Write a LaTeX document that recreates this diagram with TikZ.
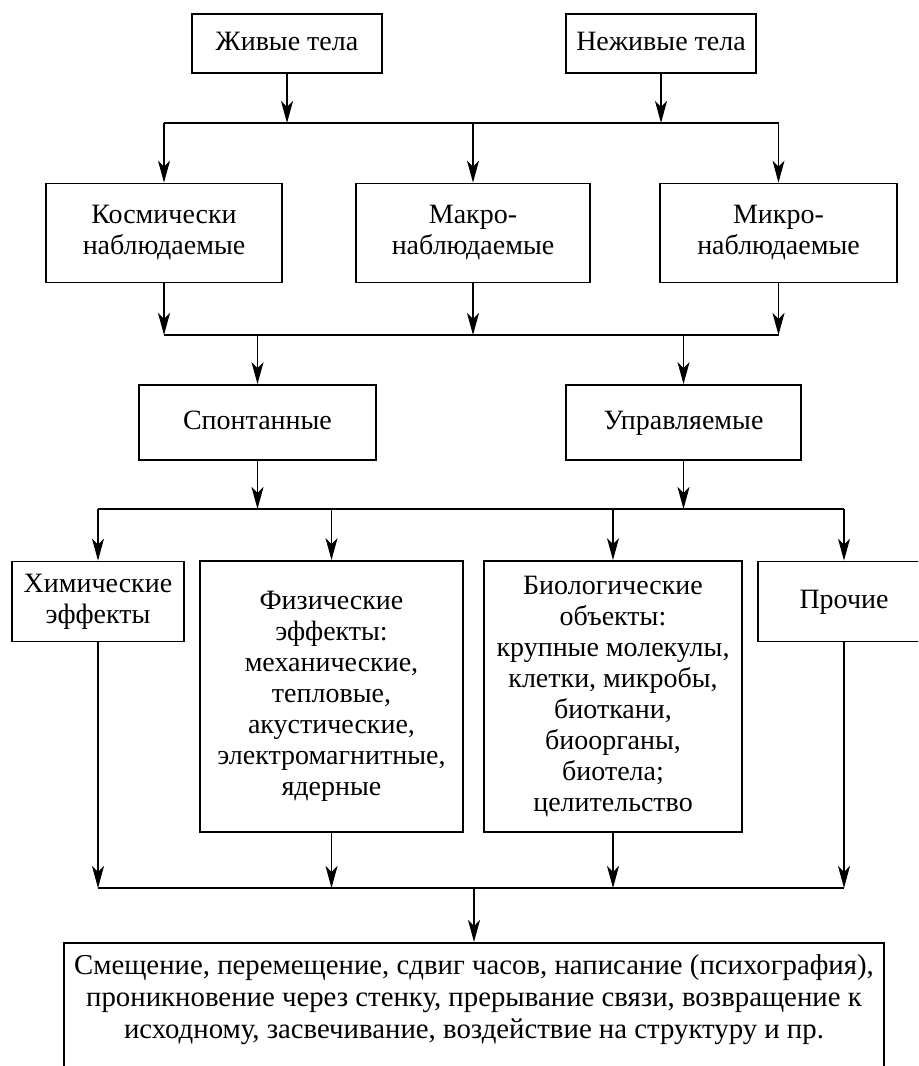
\documentclass[tikz,border=0pt]{standalone}
\usepackage{fontspec}
\setmainfont{Liberation Serif}
\usetikzlibrary{positioning,arrows.meta}

\begin{document}
\begin{tikzpicture}[x=0.5pt,y=-0.5pt,
            blocknode/.style={rectangle, draw=black, line width=0.9pt, align=center, inner sep=0pt,
                font=\fontsize{14pt}{15.5pt}\selectfont},
            onelinenode/.style={blocknode, text height=9.5pt, text depth=3pt},
            arr/.style={line width=0.65pt, -{Stealth[length=11pt,width=6pt,inset=3pt]}},
            bus/.style={line width=0.9pt},
            ]
            \useasboundingbox (0,0) rectangle (918,1066);
            \clip (0,0) rectangle (918,1066);

            %Nodes
            \node[onelinenode, minimum width=95pt, minimum height=29.5pt]    (zhiv)   at (287,43.5)  {Живые тела};
            \node[onelinenode, minimum width=95pt, minimum height=29.5pt]    (nezhiv) at (661,43.5)  {Неживые тела};

            \node[blocknode, minimum width=118pt, minimum height=49.5pt]   (kosm)   at (164,233)   {Космически\\наблюдаемые};
            \node[blocknode, minimum width=117pt, minimum height=49.5pt]   (makro)  at (473,233)   {Макро-\\наблюдаемые};
            \node[blocknode, minimum width=118.5pt, minimum height=49.5pt] (mikro)  at (778.5,233) {Микро-\\наблюдаемые};

            \node[onelinenode, minimum width=118.5pt, minimum height=37.5pt] (spont)  at (257.5,422.5) {Спонтанные};
            \node[onelinenode, minimum width=117.5pt, minimum height=37.5pt] (uprav)  at (683.5,422.5) {Управляемые};

            \node[blocknode, minimum width=86pt, minimum height=40pt]      (khim)   at (98,601.5)  {Химические\\эффекты};
            \node[blocknode, minimum width=131.5pt, minimum height=135.5pt] (fiz)   at (331.5,696.5)
                {Физические\\эффекты:\\механические,\\тепловые,\\акустические,\\электромагнитные,\\ядерные};
            \node[blocknode, minimum width=129pt, minimum height=135.5pt]  (bio)    at (613,696.5)
                {Биологические\\объекты:\\крупные молекулы,\\клетки, микробы,\\биоткани,\\биоорганы,\\биотела;\\целительство};
            \node[onelinenode, minimum width=86pt, minimum height=40pt]    (proch)  at (844,601.5) {Прочие};

            \node[blocknode, anchor=north, minimum width=410pt, inner ysep=6pt, text depth=40pt,
                font=\fontsize{14.4pt}{16pt}\selectfont] (itog) at (474,942)
                {Смещение, перемещение, сдвиг часов, написание (психография),\\
                 проникновение через стенку, прерывание связи, возвращение к\\
                 исходному, засвечивание, воздействие на структуру и пр.};

            \coordinate (bus1) at (0,123);
            \coordinate (bus2) at (0,335);
            \coordinate (bus3) at (0,509);
            \coordinate (bus4) at (0,888);

            %Lines
            \draw[arr] (zhiv) -- (zhiv |- bus1);
            \draw[arr] (nezhiv) -- (nezhiv |- bus1);
            \draw[bus] (kosm |- bus1) -- (mikro |- bus1);
            \foreach \n in {kosm,makro,mikro}
                \draw[arr] (\n |- bus1) -- (\n);

            \foreach \n in {kosm,makro,mikro}
                \draw[arr] (\n) -- (\n |- bus2);
            \draw[bus] (kosm |- bus2) -- (mikro |- bus2);
            \foreach \n in {spont,uprav}
                \draw[arr] (\n |- bus2) -- (\n);

            \foreach \n in {spont,uprav}
                \draw[arr] (\n) -- (\n |- bus3);
            \draw[bus] (khim |- bus3) -- (proch |- bus3);
            \foreach \n in {khim,fiz,bio,proch}
                \draw[arr] (\n |- bus3) -- (\n);

            \foreach \n in {khim,fiz,bio,proch}
                \draw[arr] (\n) -- (\n |- bus4);
            \draw[bus] (khim |- bus4) -- (proch |- bus4);
            \draw[arr] (itog |- bus4) -- (itog);

        \end{tikzpicture}
\end{document}
